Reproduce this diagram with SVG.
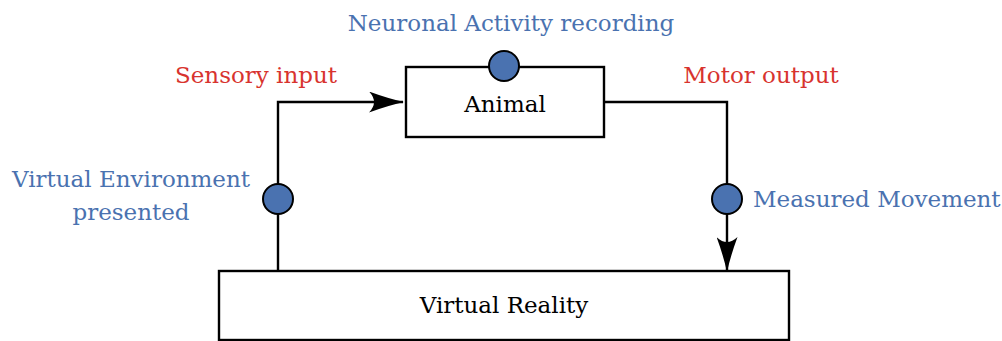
<svg xmlns="http://www.w3.org/2000/svg" width="1002" height="341" viewBox="0 0 1002 341">
<defs>
<style>
.box{fill:#fff;stroke:#000;stroke-width:2.4}
.ln{fill:none;stroke:#000;stroke-width:2.4}
.dot{fill:#4a72b0;stroke:#000;stroke-width:2}
.t{font-family:"DejaVu Serif","Liberation Serif",serif;font-size:23px}
.blk{fill:#000}
.blue{fill:#4a72b0}
.red{fill:#d8332e}
</style>
<marker id="ah" viewBox="0 0 35 21" refX="34" refY="10.5" markerWidth="35" markerHeight="21" markerUnits="userSpaceOnUse" orient="auto">
<path d="M0,0 Q19,7 35,10.5 Q19,14 0,21 Q10,10.5 0,0 Z" fill="#000"/>
</marker>
</defs>
<rect width="1002" height="341" fill="#fff"/>
<g id="connectors">
<path class="ln" d="M278,271 L278,102 L403,102" marker-end="url(#ah)"/>
<path class="ln" d="M604,102 L727,102 L727,271" marker-end="url(#ah)"/>
</g>
<g id="animal">
<rect class="box" x="406" y="67" width="198" height="70"/>
<text class="t blk" x="505" y="112" text-anchor="middle">Animal</text>
</g>
<g id="virtual-reality">
<rect class="box" x="219" y="271" width="570" height="69"/>
<text class="t blk" x="504" y="313" text-anchor="middle">Virtual Reality</text>
</g>
<g id="neuronal-recording">
<circle class="dot" cx="504" cy="66" r="15"/>
<text class="t blue" x="511" y="31" text-anchor="middle">Neuronal Activity recording</text>
</g>
<g id="ve-presented">
<circle class="dot" cx="278" cy="199" r="15"/>
<text class="t blue" x="131" y="187" text-anchor="middle">Virtual Environment</text>
<text class="t blue" x="131" y="220" text-anchor="middle">presented</text>
</g>
<g id="measured-movement">
<circle class="dot" cx="727" cy="199" r="15"/>
<text class="t blue" x="753" y="207">Measured Movement</text>
</g>
<g id="labels">
<text class="t red" x="256" y="83" text-anchor="middle">Sensory input</text>
<text class="t red" x="761" y="83" text-anchor="middle">Motor output</text>
</g>
</svg>
